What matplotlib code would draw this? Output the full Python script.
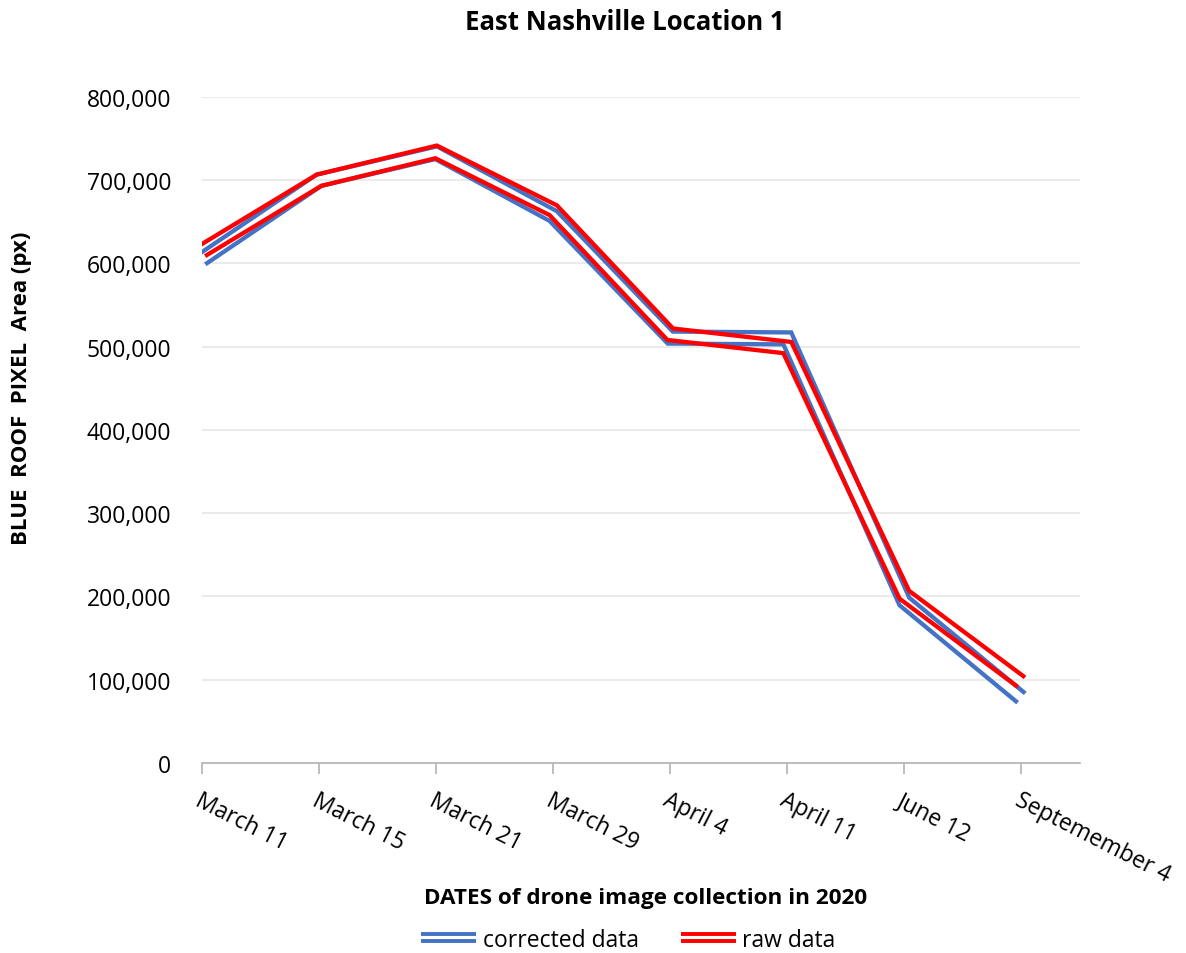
import numpy as np
import matplotlib
matplotlib.use('Agg')
import matplotlib.pyplot as plt
from matplotlib.lines import Line2D
from matplotlib.legend_handler import HandlerLine2D

plt.rcParams['font.family'] = ['Open Sans', 'DejaVu Sans']

dates = ['March 11', 'March 15', 'March 21', 'March 29', 'April 4',
         'April 11', 'June 12', 'Septemember 4']
corrected = [605000, 700000, 733000, 657000, 511000, 510000, 194000, 78000]
raw = [615000, 700000, 734000, 664000, 515000, 499000, 202000, 97000]
yticks = [0, 100000, 200000, 300000, 400000, 500000, 600000, 700000, 800000]

BLUE = '#4472C4'
RED = '#FF0000'
GAP = 6.0      # px from centre of the pair to each stroke
STROKE = 4.3   # px width of each stroke


def offset_path(ax, xs, ys, d):
    # shift a polyline sideways by d pixels (mitred joins), back in data units
    pts = ax.transData.transform(np.column_stack([xs, ys]))
    seg = np.diff(pts, axis=0)
    seg = seg / np.linalg.norm(seg, axis=1)[:, None]
    normals = np.column_stack([-seg[:, 1], seg[:, 0]])
    out = []
    for i in range(len(pts)):
        if i == 0:
            n = normals[0]
            k = 1.0
        elif i == len(pts) - 1:
            n = normals[-1]
            k = 1.0
        else:
            n = normals[i - 1] + normals[i]
            n = n / np.linalg.norm(n)
            k = 1.0 / np.dot(n, normals[i])
        out.append(pts[i] + n * d * k)
    return ax.transData.inverted().transform(np.array(out))


def double_line(ax, xs, ys, color):
    lw = STROKE * 72 / fig.dpi
    for d in (-GAP, GAP):
        p = offset_path(ax, xs, ys, d)
        ax.plot(p[:, 0], p[:, 1], color=color, lw=lw,
                solid_joinstyle='miter', solid_capstyle='butt', zorder=3)


class DoubleLineHandler(HandlerLine2D):
    def create_artists(self, legend, orig_handle, xdescent, ydescent,
                       width, height, fontsize, trans):
        y = height / 2 - ydescent
        off = 2.6
        arts = []
        for dy in (-off, off):
            ln = Line2D([-xdescent, -xdescent + width], [y + dy, y + dy],
                        color=orig_handle.get_color(), lw=2.8,
                        solid_capstyle='butt')
            ln.set_transform(trans)
            arts.append(ln)
        return arts


fig = plt.figure(figsize=(11.86, 9.54), dpi=100)
ax = fig.add_axes([0.1703, 0.1992, 0.7403, 0.6981])

x = np.arange(len(dates))
ax.set_xlim(0, len(dates) - 0.5)
ax.set_ylim(0, 800000)

ax.set_yticks(yticks)
ax.set_yticklabels([f'{v:,}' for v in yticks], fontsize=16.5)
ax.set_xticks(x)
ax.set_xticklabels(dates, fontsize=16.5, rotation=-27, ha='left',
                   rotation_mode='anchor')
ax.tick_params(axis='y', length=0, pad=22)
ax.tick_params(axis='x', length=8, width=1.2, color='#b3b3b3',
               direction='out', pad=10)
ax.grid(axis='y', color='#ebebeb', lw=1.5, zorder=0)
for s in ('left', 'right', 'top'):
    ax.spines[s].set_visible(False)
ax.spines['bottom'].set_color('#b3b3b3')
ax.spines['bottom'].set_linewidth(1.2)
ax.set_axisbelow(True)

double_line(ax, x, corrected, BLUE)
double_line(ax, x, raw, RED)

fig.text(0.527, 0.976, 'East Nashville Location 1', fontsize=18.5,
         fontweight='bold', ha='center', va='center')
fig.text(0.0185, 0.593, 'BLUE  ROOF  PIXEL  Area (px)', fontsize=16,
         fontweight='bold', ha='center', va='center', rotation=90)
fig.text(0.544, 0.0587, 'DATES of drone image collection in 2020',
         fontsize=16.2, fontweight='bold', ha='center', va='center')

handles = [Line2D([], [], color=BLUE), Line2D([], [], color=RED)]
fig.legend(handles, ['corrected data', 'raw data'], loc='center',
           bbox_to_anchor=(0.53, 0.014), ncol=2, frameon=False, fontsize=16.5,
           handler_map={Line2D: DoubleLineHandler()}, handlelength=2.4,
           handletextpad=0.3, columnspacing=1.8)

fig.savefig('out.png', dpi=100)
